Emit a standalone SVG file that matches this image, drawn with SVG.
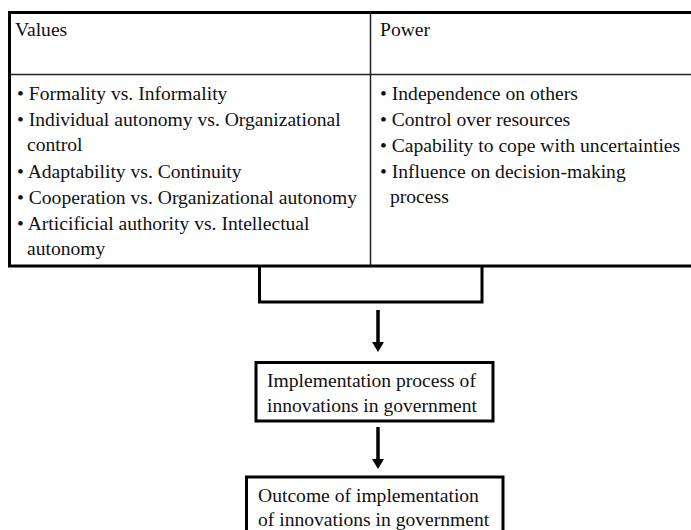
<svg xmlns="http://www.w3.org/2000/svg" width="691" height="530" viewBox="0 0 691 530">
  <style>
    text { font-family: "Liberation Serif", "Times New Roman", serif; font-size: 19.6px; fill: #111; }
    .thick { fill: none; stroke: #000; stroke-width: 3; }
    .thin { fill: none; stroke: #222; stroke-width: 1.5; }
    .shaft { stroke: #000; stroke-width: 3.5; }
    .tip { fill: #000; }
  </style>

  <rect width="691" height="530" fill="#fff"/>

  <!-- factors table -->
  <g id="table">
    <path class="thick" d="M693,12.5 H9.5 V266 H693"/>
    <path class="thin" d="M9.5,74.5 H693"/>
    <path class="thin" d="M370.5,12.5 V266"/>
    <text x="15" y="36">Values</text>
    <text x="380" y="36">Power</text>
  </g>

  <g id="values">
    <text x="17" y="100">• Formality vs. Informality</text>
    <text x="17" y="126">• Individual autonomy vs. Organizational</text>
    <text x="27" y="151">control</text>
    <text x="17" y="178">• Adaptability vs. Continuity</text>
    <text x="17" y="204">• Cooperation vs. Organizational autonomy</text>
    <text x="17" y="230">• Articificial authority vs. Intellectual</text>
    <text x="27" y="255">autonomy</text>
  </g>

  <g id="power">
    <text x="380" y="100">• Independence on others</text>
    <text x="380" y="126">• Control over resources</text>
    <text x="380" y="152">• Capability to cope with uncertainties</text>
    <text x="380" y="178">• Influence on decision-making</text>
    <text x="390" y="203">process</text>
  </g>

  <!-- bracket joining both columns, then the flow downward -->
  <g id="connectors">
    <path class="thick" d="M259.5,266 V302 H482 V266"/>
    <line class="shaft" x1="378" y1="310" x2="378" y2="343"/>
    <polygon class="tip" points="372,342 384,342 378,352"/>
    <line class="shaft" x1="378" y1="427" x2="378" y2="460"/>
    <polygon class="tip" points="372,459 384,459 378,469"/>
  </g>

  <g id="implementation">
    <rect class="thick" x="256" y="362.5" width="237" height="58.5"/>
    <text x="267" y="387">Implementation process of</text>
    <text x="267" y="412">innovations in government</text>
  </g>

  <g id="outcome">
    <rect class="thick" x="246.5" y="477" width="256.5" height="60"/>
    <text x="258" y="502">Outcome of implementation</text>
    <text x="258" y="526">of innovations in government</text>
  </g>
</svg>
